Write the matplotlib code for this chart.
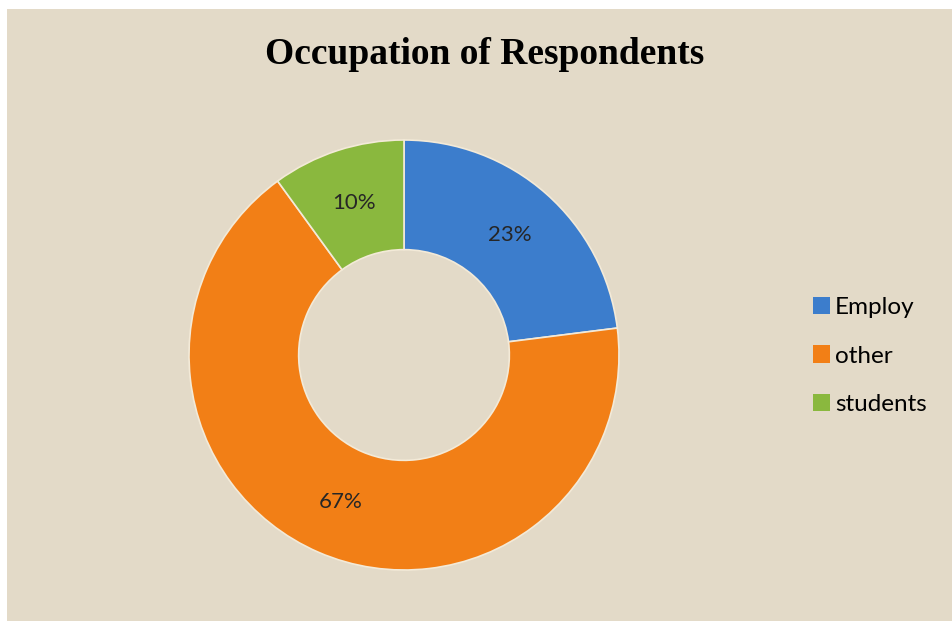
import numpy as np
import matplotlib.pyplot as plt
from matplotlib.patches import Patch

# data
labels = ['Employ', 'other', 'students']
shares = [23, 67, 10]
colors = ['#3c7dcc', '#f27f16', '#8ab83e']

W, H = 952, 629
fig = plt.figure(figsize=(W / 100, H / 100), dpi=100)
fig.patch.set_facecolor('white')

# beige background panel
bg = fig.add_axes([7 / W, 8 / H, 1 - 7 / W, 1 - 17 / H])
bg.set_facecolor('#e3dac8')
bg.set_xticks([])
bg.set_yticks([])
for sp in bg.spines.values():
    sp.set_visible(False)

# donut axes: centre (404, 355) px, radius 215 px
cx, cy, r = 404, 355, 215
ax = fig.add_axes([(cx - r) / W, (H - cy - r) / H, 2 * r / W, 2 * r / H])
wedges, texts = ax.pie(shares, colors=colors, startangle=90, counterclock=False,
                       radius=1, wedgeprops=dict(width=0.51, edgecolor='#f3ead8',
                                                 linewidth=1.2))
ax.set_xlim(-1, 1)
ax.set_ylim(-1, 1)
ax.set_aspect('equal')
ax.axis('off')

# percentage labels at ring middle
start = 90
for s in shares:
    mid = np.deg2rad(start - s / 100 * 360 / 2)
    ax.text(0.745 * np.cos(mid), 0.745 * np.sin(mid), f'{s}%',
            ha='center', va='center', fontsize=16, family='Lato', color='#262626')
    start -= s / 100 * 360

fig.text(485 / W, 1 - 55 / H, 'Occupation of Respondents', ha='center', va='center',
         fontsize=27, fontweight='bold', family='Liberation Serif')

handles = [Patch(facecolor=c, edgecolor='none') for c in colors]
fig.legend(handles, labels, loc='center left', bbox_to_anchor=(791 / W, 1 - 356 / H),
           frameon=False, handlelength=0.7, handleheight=0.7, handletextpad=0.2,
           labelspacing=1.15, prop={'family': 'Lato', 'size': 17.5})

fig.savefig('out.png', dpi=100)
